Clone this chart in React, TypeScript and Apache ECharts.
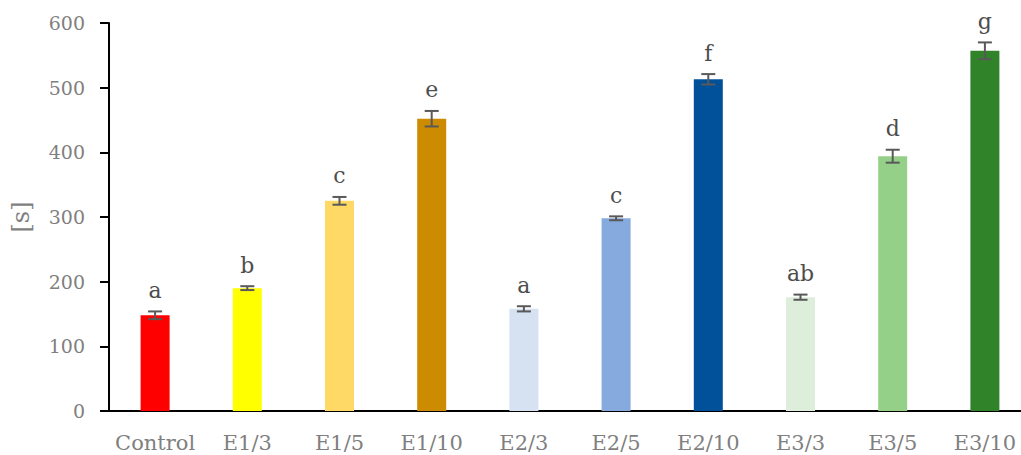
import React, { useEffect, useRef } from "react";
import * as echarts from "echarts";

const categories = ["Control", "E1/3", "E1/5", "E1/10", "E2/3", "E2/5", "E2/10", "E3/3", "E3/5", "E3/10"];
const means = [148, 190, 325, 452, 158, 298, 513, 176, 394, 557];
const errors = [6, 3, 6, 12, 4, 3, 8, 4, 10, 13];
const letters = ["a", "b", "c", "e", "a", "c", "f", "ab", "d", "g"];
const yTicks = [0, 100, 200, 300, 400, 500, 600];

const barColors = ["#FF0000", "#FFFF00", "#FFD966", "#CC8B00", "#D6E1F2", "#86AADD", "#00519A", "#DDEFDA", "#95D089", "#31832A"];

const FONT = "'DejaVu Serif', serif";

export default function App() {
  const ref = useRef<HTMLDivElement>(null);
  useEffect(() => {
    if (!ref.current) return;
    const chart = echarts.init(ref.current, undefined, { renderer: "svg" });
    const errData = categories.map((c, i) => [i, means[i] - errors[i], means[i] + errors[i]]);
    chart.setOption({
      animation: false,
      grid: { left: 109, width: 922, top: 23, height: 388 },
      xAxis: {
        type: "category",
        data: categories,
        axisLine: { lineStyle: { color: "#000", width: 2 } },
        axisTick: { show: false },
        axisLabel: { color: "#7f7f7f", fontFamily: FONT, fontSize: 21, margin: 21, interval: 0 },
      },
      yAxis: {
        type: "value",
        min: yTicks[0],
        max: yTicks[yTicks.length - 1],
        interval: 100,
        name: "[s]",
        nameLocation: "middle",
        nameGap: 76,
        nameTextStyle: { color: "#7f7f7f", fontFamily: FONT, fontSize: 24 },
        axisLine: { show: true, lineStyle: { color: "#000", width: 2 } },
        axisTick: { show: true, length: 9, lineStyle: { color: "#000", width: 2 } },
        splitLine: { show: false },
        axisLabel: { color: "#7f7f7f", fontFamily: FONT, fontSize: 19, margin: 24 },
      },
      series: [
        {
          type: "bar",
          barWidth: 29,
          data: means.map((v, i) => ({ value: v, itemStyle: { color: barColors[i] } })),
        },
        {
          type: "custom",
          data: errData,
          z: 10,
          renderItem: (params: any, api: any) => {
            const x = api.value(0);
            const lo = api.coord([x, api.value(1)]);
            const hi = api.coord([x, api.value(2)]);
            const half = 7;
            const style = { stroke: "#595959", lineWidth: 2 };
            return {
              type: "group",
              children: [
                { type: "line", shape: { x1: lo[0], y1: lo[1], x2: hi[0], y2: hi[1] }, style },
                { type: "line", shape: { x1: lo[0] - half, y1: lo[1], x2: lo[0] + half, y2: lo[1] }, style },
                { type: "line", shape: { x1: hi[0] - half, y1: hi[1], x2: hi[0] + half, y2: hi[1] }, style },
                {
                  type: "text",
                  x: hi[0],
                  y: hi[1] - 10,
                  style: {
                    text: letters[params.dataIndex],
                    fill: "#4d4d4d",
                    font: "22px " + FONT,
                    align: "center",
                    verticalAlign: "bottom",
                  },
                },
              ],
            };
          },
        },
      ],
    });
    return () => chart.dispose();
  }, []);
  return (
    <div style={{ width: 1021, height: 455, position: "absolute", left: 0, top: 0, overflow: "hidden" }}>
      <div ref={ref} style={{ width: 1040, height: 455 }} />
    </div>
  );
}
